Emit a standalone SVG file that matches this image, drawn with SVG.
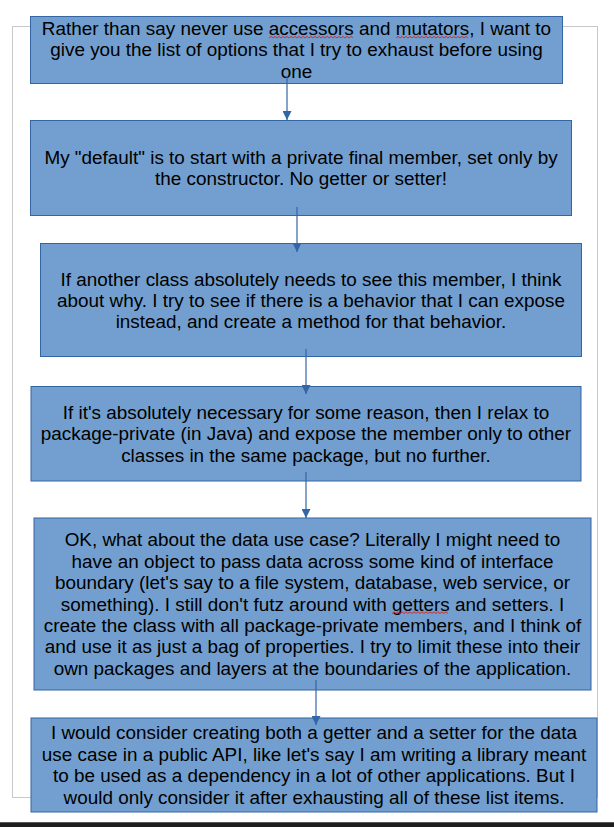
<svg xmlns="http://www.w3.org/2000/svg" width="614" height="827" viewBox="0 0 614 827">
<style>
.box{fill:#729fcf;stroke:#3465a4;stroke-width:1}
.t{font-family:"Liberation Sans",Arial,sans-serif;font-size:18.9px;fill:#000;text-anchor:middle}
.conn{stroke:#3465a4;stroke-width:1.2;fill:none}
.sq{stroke:#e0201e;stroke-width:0.9;fill:none}
</style>
<defs>
<marker id="ah" markerUnits="userSpaceOnUse" markerWidth="10" markerHeight="9" refX="9" refY="4.5" orient="auto">
<path d="M0,0 L9,4.5 L0,9 Z" fill="#3465a4"/>
</marker>
<pattern id="wave" x="0" y="0" width="4" height="4" patternUnits="userSpaceOnUse">
<path d="M0,3 L1,1.5 L2,0.5 L3,1.5 L4,3" stroke="#e0201e" stroke-width="0.9" fill="none"/>
</pattern>
</defs>
<rect width="614" height="827" fill="#fff"/>
<rect id="page" x="12.5" y="26.5" width="585" height="771" fill="none" stroke="#c8c8c8" stroke-width="1"/>
<rect x="0" y="822" width="614" height="5" fill="#1e1e1e"/>
<line x1="0" y1="822.5" x2="614" y2="822.5" stroke="#5a5a5a" stroke-width="1"/>

<g id="n1">
<rect class="box" x="30.5" y="16.5" width="532" height="67"/>
<text class="t"><tspan x="296.5" y="35">Rather than say never use accessors and mutators, I want to</tspan><tspan x="296.5" y="56.4">give you the list of options that I try to exhaust before using</tspan><tspan x="296.5" y="77.8">one</tspan></text>
<path class="sq" d="M269,38 l2,-1.6 l2,1.6 l2,-1.6 l2,1.6 l2,-1.6 l2,1.6 l2,-1.6 l2,1.6 l2,-1.6 l2,1.6 l2,-1.6 l2,1.6 l2,-1.6 l2,1.6 l2,-1.6 l2,1.6 l2,-1.6 l2,1.6 l2,-1.6 l2,1.6 l2,-1.6 l2,1.6 l2,-1.6 l2,1.6 l2,-1.6 l2,1.6 l2,-1.6 l2,1.6 l2,-1.6 l2,1.6 l2,-1.6 l2,1.6 l2,-1.6 l2,1.6 l2,-1.6 l2,1.6 l2,-1.6 l2,1.6 l2,-1.6 l2,1.6 l2,-1.6 l2,1.6"/>
<path class="sq" d="M396,38 l2,-1.6 l2,1.6 l2,-1.6 l2,1.6 l2,-1.6 l2,1.6 l2,-1.6 l2,1.6 l2,-1.6 l2,1.6 l2,-1.6 l2,1.6 l2,-1.6 l2,1.6 l2,-1.6 l2,1.6 l2,-1.6 l2,1.6 l2,-1.6 l2,1.6 l2,-1.6 l2,1.6 l2,-1.6 l2,1.6 l2,-1.6 l2,1.6 l2,-1.6 l2,1.6 l2,-1.6 l2,1.6 l2,-1.6 l2,1.6 l2,-1.6 l2,1.6 l2,-1.6 l2,1.6"/>
</g>

<g id="n2">
<rect class="box" x="30.5" y="120.5" width="541" height="95"/>
<text class="t"><tspan x="301" y="163.9">My "default" is to start with a private final member, set only by</tspan><tspan x="301" y="185.3">the constructor. No getter or setter!</tspan></text>
</g>

<g id="n3">
<rect class="box" x="40.5" y="243.5" width="541" height="113"/>
<text class="t"><tspan x="311" y="285.6">If another class absolutely needs to see this member, I think</tspan><tspan x="311" y="307">about why. I try to see if there is a behavior that I can expose</tspan><tspan x="311" y="328.4">instead, and create a method for that behavior.</tspan></text>
</g>

<g id="n4">
<rect class="box" x="31" y="386.5" width="550" height="94.5"/>
<text class="t"><tspan x="306" y="418.9">If it's absolutely necessary for some reason, then I relax to</tspan><tspan x="306" y="440.3">package-private (in Java) and expose the member only to other</tspan><tspan x="306" y="461.7">classes in the same package, but no further.</tspan></text>
</g>

<g id="n5">
<rect class="box" x="34" y="518" width="557" height="172"/>
<text class="t"><tspan x="312.5" y="546.4">OK, what about the data use case? Literally I might need to</tspan><tspan x="312.5" y="567.8">have an object to pass data across some kind of interface</tspan><tspan x="312.5" y="589.2">boundary (let's say to a file system, database, web service, or</tspan><tspan x="312.5" y="610.6">something). I still don't futz around with getters and setters. I</tspan><tspan x="312.5" y="632">create the class with all package-private members, and I think of</tspan><tspan x="312.5" y="653.4">and use it as just a bag of properties. I try to limit these into their</tspan><tspan x="312.5" y="674.8">own packages and layers at the boundaries of the application.</tspan></text>
<path class="sq" d="M392,613.5 l2,-1.6 l2,1.6 l2,-1.6 l2,1.6 l2,-1.6 l2,1.6 l2,-1.6 l2,1.6 l2,-1.6 l2,1.6 l2,-1.6 l2,1.6 l2,-1.6 l2,1.6 l2,-1.6 l2,1.6 l2,-1.6 l2,1.6 l2,-1.6 l2,1.6 l2,-1.6 l2,1.6 l2,-1.6 l2,1.6 l2,-1.6 l2,1.6 l2,-1.6 l2,1.6"/>
</g>

<g id="n6">
<rect class="box" x="31" y="718" width="566" height="94"/>
<text class="t"><tspan x="314" y="739.4">I would consider creating both a getter and a setter for the data</tspan><tspan x="314" y="760.8">use case in a public API, like let's say I am writing a library meant</tspan><tspan x="314" y="782.2">to be used as a dependency in a lot of other applications. But I</tspan><tspan x="314" y="803.6">would only consider it after exhausting all of these list items.</tspan></text>
</g>

<g id="connectors">
<line class="conn" x1="287" y1="77" x2="287" y2="120" marker-end="url(#ah)"/>
<line class="conn" x1="297" y1="207" x2="297" y2="252" marker-end="url(#ah)"/>
<line class="conn" x1="306" y1="349" x2="306" y2="394" marker-end="url(#ah)"/>
<line class="conn" x1="306" y1="472" x2="306" y2="518" marker-end="url(#ah)"/>
<line class="conn" x1="316" y1="680" x2="316" y2="725" marker-end="url(#ah)"/>
</g>
</svg>
